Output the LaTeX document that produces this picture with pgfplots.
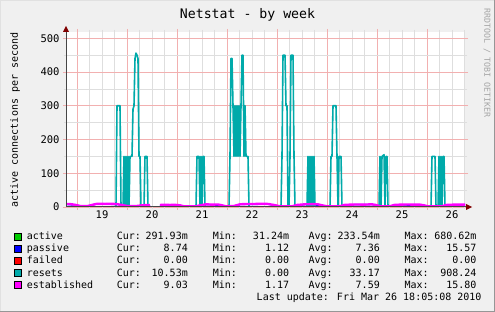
\documentclass[border=0pt]{standalone}
\usepackage{fontspec}
\setmainfont{DejaVu Sans Mono}
\usepackage{pgfplots}
\pgfplotsset{compat=1.18}
\usetikzlibrary{arrows.meta}
\definecolor{canvas}{RGB}{240,240,240}
\definecolor{gridred}{RGB}{242,176,176}
\definecolor{gridgrey}{RGB}{222,222,222}
\definecolor{axisgrey}{RGB}{70,70,70}
\definecolor{arrowred}{RGB}{128,0,0}
\definecolor{cactive}{RGB}{0,204,0}
\definecolor{cpassive}{RGB}{0,0,255}
\definecolor{cfailed}{RGB}{255,0,0}
\definecolor{cresets}{RGB}{0,170,170}
\definecolor{cestab}{RGB}{255,0,255}
\definecolor{wmark}{RGB}{165,165,165}
\definecolor{framelight}{RGB}{225,225,225}
\definecolor{framedark}{RGB}{150,150,150}
\newcommand{\lfont}{\fontsize{10bp}{12bp}\selectfont}
\newcommand{\tfont}{\fontsize{13.2bp}{15bp}\selectfont}
\newcommand{\kfont}{\fontsize{10.5bp}{12bp}\selectfont}
\newcommand{\wfont}{\fontsize{8.3bp}{10bp}\selectfont}

\pgfplotstableread{
x y
18.76 0
19.78 0
19.80 300
19.86 300
19.88 0
19.92 0
19.94 150
19.96 0
19.98 150
20.00 0
20.02 150
20.04 0
20.06 150
20.08 150
20.10 150
20.12 290
20.14 300
20.16 440
20.18 456
20.20 450
20.22 440
20.24 150
20.26 150
20.28 0
20.34 0
20.36 150
20.40 150
20.42 0
20.46 0
20.50 nan
20.66 0
21.38 0
21.40 150
21.44 150
21.46 0
21.48 150
21.50 0
21.52 150
21.54 150
21.56 0
22.04 0
22.06 150
22.08 440
22.10 440
22.12 300
22.14 150
22.16 300
22.18 150
22.20 300
22.22 150
22.24 300
22.26 150
22.28 300
22.30 450
22.32 450
22.34 150
22.36 300
22.38 150
22.42 150
22.44 0
23.08 0
23.10 150
23.12 450
23.16 450
23.18 300
23.20 300
23.22 0
23.24 0
23.26 150
23.28 450
23.32 450
23.34 150
23.36 0
23.60 0
23.62 150
23.64 0
23.66 150
23.68 0
23.70 150
23.72 0
23.74 150
23.76 0
24.06 0
24.08 150
24.10 150
24.12 300
24.18 300
24.20 150
24.22 0
24.24 150
24.28 150
24.30 0
25.04 0
25.06 150
25.08 0
25.10 150
25.14 155
25.16 0
25.18 150
25.20 150
25.22 0
26.08 0
26.10 150
26.16 150
26.18 0
26.22 0
26.24 150
26.26 0
26.28 150
26.30 0
26.32 150
26.34 150
26.36 0
26.76 0
}\resets

\pgfplotstableread{
x y
18.76 8.5
18.84 9
18.90 8
18.98 6
19.06 3
19.22 3
19.30 6
19.38 9
19.46 9.5
19.56 9
19.68 9.5
19.80 8.5
19.90 6
20.00 3
20.20 3
20.30 5
20.46 6
20.50 nan
20.66 6
20.76 6.5
20.86 6
20.96 6.5
21.06 5
21.14 2
21.38 2
21.46 5
21.58 8
21.70 7
21.82 7.5
21.90 5
21.98 2
22.14 3
22.26 8
22.40 9
22.56 9
22.70 9.5
22.82 9
22.94 6
23.06 2
23.30 2
23.40 6
23.56 8
23.70 8.5
23.82 8
23.90 5
24.00 2
24.26 2
24.34 6
24.46 7
24.60 7.5
24.74 7
24.90 8
24.98 6
25.06 2
25.26 2
25.34 6
25.46 7
25.60 7.5
25.74 7
25.86 7
25.94 5
26.02 2
26.30 2
26.38 6
26.54 7
26.76 7
}\estab

\pgfplotstableread{
x y
18.76 8
18.98 5.5
19.06 2.5
19.22 2.5
19.38 8.5
19.80 8
20.00 2.5
20.20 2.5
20.46 5.5
20.50 nan
20.66 5.5
21.06 4.5
21.14 1.5
21.38 1.5
21.58 7.5
21.90 4.5
21.98 1.5
22.14 2.5
22.26 7.5
22.82 8.5
23.06 1.5
23.30 1.5
23.56 7.5
23.90 4.5
24.00 1.5
24.26 1.5
24.46 6.5
24.90 7.5
25.06 1.5
25.26 1.5
25.46 6.5
25.94 4.5
26.02 1.5
26.30 1.5
26.54 6.5
26.76 6.5
}\passive

\begin{document}
\begin{tikzpicture}
\useasboundingbox (0,0) rectangle (495bp,312bp);
\fill[canvas] (0,0) rectangle (495bp,312bp);
\draw[framelight, line width=1bp] (0.5bp,0.5bp) -- (0.5bp,311.5bp) -- (494.5bp,311.5bp);
\draw[framedark, line width=1bp] (0.5bp,0.5bp) -- (494.5bp,0.5bp) -- (494.5bp,311.5bp);

\begin{axis}[
  at={(66bp,105bp)}, anchor=south west,
  scale only axis, width=399bp, height=175bp,
  xmin=18.78, xmax=26.76, ymin=0, ymax=518.7,
  axis line style={draw=none},
  axis background/.style={fill=white},
  xtick={19,20,21,22,23,24,25,26}, xticklabels={},
  minor xtick={19.25,19.5,19.75,20.25,20.5,20.75,21.25,21.5,21.75,22.25,22.5,22.75,23.25,23.5,23.75,24.25,24.5,24.75,25.25,25.5,25.75,26.25,26.5,26.75},
  extra x ticks={19.5,20.5,21.5,22.5,23.5,24.5,25.5,26.5},
  extra x tick labels={19,20,21,22,23,24,25,26},
  extra x tick style={grid=none, major tick length=0pt},
  ytick={0,100,200,300,400,500},
  minor ytick={50,150,250,350,450},
  grid=both,
  major grid style={color=gridred, line width=0.7bp},
  minor grid style={color=gridgrey, line width=0.7bp},
  tick align=outside, major tick length=3bp, minor tick length=2bp,
  major tick style={color=gridred, line width=0.7bp},
  minor tick style={color=gridgrey, line width=0.7bp},
  /pgf/number format/assume math mode=true,
  ticklabel style={font=\kfont},
  yticklabel style={anchor=east},
  unbounded coords=jump,
]
\addplot[cpassive, line width=1.5bp, line join=round] table {\passive};
\addplot[cactive, line width=1bp] coordinates {(18.76,0.3) (20.46,0.3) (20.50,nan) (20.66,0.3) (26.76,0.3)};
\addplot[cfailed, line width=1bp] coordinates {(18.76,0) (20.46,0) (20.50,nan) (20.66,0) (26.76,0)};
\addplot[cresets, line width=1.6bp, line join=round] table {\resets};
\addplot[cestab, line width=2.4bp, line join=round] table {\estab};
\end{axis}

\draw[axisgrey, line width=1bp] (66bp,105bp) -- (467bp,105bp);
\fill[arrowred] (472bp,105bp) -- (466bp,102bp) -- (466bp,108bp) -- cycle;
\draw[axisgrey, line width=1bp] (66bp,105bp) -- (66bp,281bp);
\fill[arrowred] (66bp,286bp) -- (63bp,280bp) -- (69bp,280bp) -- cycle;

\node[anchor=base, font=\tfont] at (247.5bp,293bp) {Netstat - by week};
\node[rotate=90, font=\lfont] at (15bp,192bp) {active connections per second};
\node[rotate=-90, font=\wfont, text=wmark] at (487bp,249bp) {RRDTOOL / TOBI OETIKER};

\foreach \yy/\cc/\nm/\cur/\mn/\av/\mx in {
  72/cactive/active/291.93m/31.24m/233.54m/680.62m,
  60/cpassive/passive/8.74/1.12/7.36/15.57,
  48/cfailed/failed/0.00/0.00/0.00/0.00,
  36/cresets/resets/10.53m/0.00/33.17/908.24,
  24/cestab/established/9.03/1.17/7.59/15.80}{
  \filldraw[fill=\cc, draw=black, line width=0.8bp] (14.5bp,\yy bp) rectangle (21bp,\yy bp+6.5bp);
  \node[anchor=base west, font=\lfont, inner sep=0pt] at (26.7bp,\yy bp) {\nm};
  \node[anchor=base west, font=\lfont, inner sep=0pt] at (116.7bp,\yy bp) {Cur:};
  \node[anchor=base east, font=\lfont, inner sep=0pt] at (188bp,\yy bp) {\cur};
  \node[anchor=base west, font=\lfont, inner sep=0pt] at (212.7bp,\yy bp) {Min:};
  \node[anchor=base east, font=\lfont, inner sep=0pt] at (289.3bp,\yy bp) {\mn};
  \node[anchor=base west, font=\lfont, inner sep=0pt] at (308.3bp,\yy bp) {Avg:};
  \node[anchor=base east, font=\lfont, inner sep=0pt] at (380bp,\yy bp) {\av};
  \node[anchor=base west, font=\lfont, inner sep=0pt] at (404.3bp,\yy bp) {Max:};
  \node[anchor=base east, font=\lfont, inner sep=0pt] at (476.7bp,\yy bp) {\mx};
}
\node[anchor=base east, font=\lfont, inner sep=0pt] at (481.7bp,12bp) {Last update: Fri Mar 26 18:05:08 2010};
\end{tikzpicture}
\end{document}
